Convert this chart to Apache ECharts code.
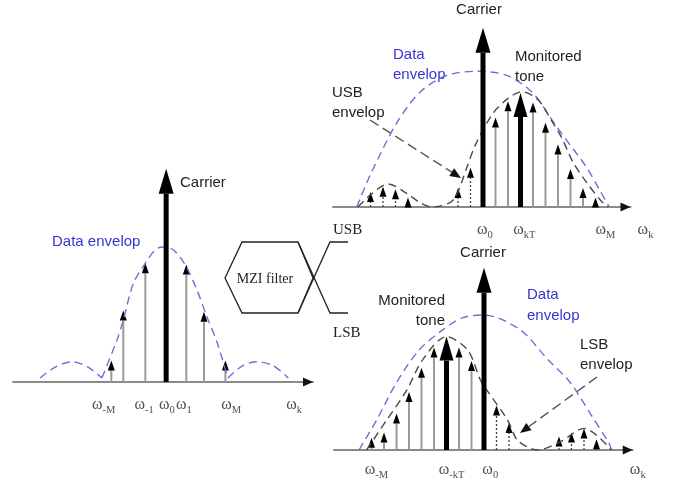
<!DOCTYPE html>
<html><head><meta charset="utf-8">
<script src="https://cdn.jsdelivr.net/npm/echarts@6/dist/echarts.min.js"></script>
<style>html,body{margin:0;padding:0;background:#fff}#c{width:676px;height:484px}</style>
</head><body><div id="c"></div>
<script>
// ---------- Panel 1 (input spectrum) ----------
const p1Carrier = [[0, 1.58]];
const p1Tones = [[-8.7,0.16],[-6.8,0.53],[-3.3,0.88],[3.2,0.87],[6.0,0.52],[9.4,0.16]];
const p1EnvLeft = [[-20,0.03],[-17.6,0.11],[-14.9,0.15],[-12.4,0.11],[-10.2,0.03]];
const p1EnvMain = [[-10.2,0.03],[-7.8,0.31],[-6.8,0.46],[-5.2,0.73],[-3.3,0.88],[-1.7,0.98],[-0.6,1.0],[1.1,0.98],[3.0,0.87],[4.9,0.68],[6.5,0.48],[8.1,0.29],[9.8,0.03]];
const p1EnvRight = [[9.8,0.03],[12.1,0.12],[14.4,0.15],[17,0.12],[19.4,0.03]];
const p1TickPos = [-9.9,-3.5,0.1,2.8,10.3,20.3];
const p1TickSub = ['-M','-1','0','1','M','k'];

// ---------- Panel 2 (USB) ----------
const p2Carrier = [[0, 1.32]];
const p2Monitored = [[3, 0.84]];
const p2Tones = [[1,0.66],[2,0.78],[4,0.77],[5,0.62],[6,0.46],[7,0.28],[8,0.14],[9,0.07]];
const p2Dotted = [[-9,0.11],[-8,0.15],[-7,0.13],[-6,0.07],[-2,0.14],[-1,0.29]];
const p2DataEnv = [[-10.1,0],[-9,0.24],[-6.9,0.62],[-5,0.85],[-2.9,0.97],[-0.5,1.0],[1.9,0.97],[4,0.84],[5.6,0.63],[6.3,0.54],[8.3,0.29],[9.3,0.13],[10.1,0]];
const p2UsbEnv = [[-10,0],[-9,0.09],[-7.6,0.17],[-6.1,0.1],[-5,0.03],[-4.1,0],[-2.4,0.05],[-1.3,0.29],[-0.6,0.46],[0.8,0.69],[2.0,0.8],[3.1,0.85],[4.4,0.79],[5.4,0.65],[6.3,0.51],[7.2,0.33],[8.3,0.18],[9.4,0.05],[10,0]];
const p2TickPos = [0.15,3.3,9.8,13.0];
const p2TickSub = ['0','kT','M','k'];

// ---------- Panel 3 (LSB) ----------
const p3Carrier = [[0, 1.35]];
const p3Monitored = [[-3, 0.84]];
const p3Tones = [[-9,0.09],[-8,0.13],[-7,0.27],[-6,0.43],[-5,0.61],[-4,0.76],[-2,0.76],[-1,0.66]];
const p3Dotted = [[1,0.33],[2,0.2],[6,0.1],[7,0.13],[8,0.16],[9,0.08]];
const p3DataEnv = [[-10,0],[-8.6,0.22],[-7,0.5],[-5.2,0.74],[-3.3,0.89],[-1.7,0.98],[0,1.0],[2.9,0.89],[5.1,0.67],[6.9,0.5],[8.5,0.27],[10,0.05],[10.2,0]];
const p3LsbEnv = [[-9.4,0],[-7.8,0.22],[-6.2,0.44],[-4.9,0.67],[-3,0.84],[-1.3,0.74],[-0.3,0.52],[0.1,0.46],[1.9,0.22],[2.7,0.07],[4.3,0],[6.1,0.06],[8,0.16],[10.2,0]];
const p3TickPos = [-8.6,-2.6,0.5,12.3];
const p3TickSub = ['-M','-kT','0','k'];

// ---------- layout ----------
const grids = [
  {left:13, top:166, width:300, height:216},
  {left:333, top:17, width:297.5, height:190},
  {left:334, top:261, width:298.75, height:189}
];
const xr = [[-24.3,23.3],[-12,11.8],[-12,11.9]];
const ymax = [1.6,1.4,1.4];
const labelOffset = [23,23,20];

const BLUE_LINE = '#6e6ed8', BLUE_TEXT = '#3535cf', ENV_BLACK = '#4a4a4a';
const SANS = '"Liberation Sans", Arial, sans-serif';
const SERIF = '"Liberation Serif", "Times New Roman", serif';

function spikes(g, data, st) {
  return {
    type:'custom', xAxisIndex:g, yAxisIndex:g, data, clip:false, silent:true, z: st.z || 3,
    renderItem(params, api) {
      const base = api.coord([api.value(0), 0]);
      const tip = api.coord([api.value(0), api.value(1)]);
      const x = base[0];
      const hb = tip[1] + st.headLen;
      return {type:'group', children:[
        {type:'line', shape:{x1:x, y1:base[1], x2:x, y2:hb},
         style:{stroke:st.stem, lineWidth:st.width, lineDash:st.dash || null}},
        {type:'polygon', shape:{points:[[x, tip[1]],[x-st.headW/2, hb],[x+st.headW/2, hb]]},
         style:{fill:'#000'}}
      ]};
    }
  };
}
function env(g, data, color) {
  return {type:'line', xAxisIndex:g, yAxisIndex:g, data, smooth:0.3, symbol:'none', silent:true, z:4,
    lineStyle:{color, width:1.4, type:[8,5]}};
}
function axisArrow(g) {
  return {type:'custom', xAxisIndex:g, yAxisIndex:g, data:[[xr[g][1],0]], clip:false, silent:true, z:5,
    renderItem(params, api) {
      const p = api.coord([api.value(0), api.value(1)]);
      return {type:'polygon', shape:{points:[[p[0], p[1]],[p[0]-10, p[1]-4.5],[p[0]-10, p[1]+4.5]]}, style:{fill:'#111'}};
    }};
}
function ticks(g, pos, subs) {
  return {type:'scatter', xAxisIndex:g, yAxisIndex:g, symbolSize:0, clip:false, silent:true,
    data: pos.map((p,i)=>({value:[p,0], label:{formatter:'{w|ω}{s|' + subs[i] + '}'}})),
    label:{show:true, position:'inside', offset:[0, labelOffset[g]],
      rich:{
        w:{fontFamily:SERIF, fontSize:16, color:'#222', verticalAlign:'middle'},
        s:{fontFamily:SERIF, fontSize:10.5, color:'#222', verticalAlign:'bottom', padding:[10,0,0,0]}
      }}};
}

const thin = {stem:'#9a9a9a', width:2, headW:7, headLen:10};
const dotted = {stem:'#444', width:1.3, dash:[2,2], headW:7, headLen:10};
const carrierSt = {stem:'#000', width:5, headW:15, headLen:25, z:5};
const monSt = {stem:'#000', width:5, headW:14, headLen:24, z:5};

const series = [
  env(0, p1EnvLeft, BLUE_LINE), env(0, p1EnvMain, BLUE_LINE), env(0, p1EnvRight, BLUE_LINE),
  spikes(0, p1Tones, thin), spikes(0, p1Carrier, carrierSt), axisArrow(0), ticks(0, p1TickPos, p1TickSub),

  env(1, p2DataEnv, BLUE_LINE), env(1, p2UsbEnv, ENV_BLACK),
  spikes(1, p2Tones, thin), spikes(1, p2Dotted, dotted), spikes(1, p2Monitored, monSt), spikes(1, p2Carrier, carrierSt),
  axisArrow(1), ticks(1, p2TickPos, p2TickSub),

  env(2, p3DataEnv, BLUE_LINE), env(2, p3LsbEnv, ENV_BLACK),
  spikes(2, p3Tones, thin), spikes(2, p3Dotted, dotted), spikes(2, p3Monitored, monSt), spikes(2, p3Carrier, carrierSt),
  axisArrow(2), ticks(2, p3TickPos, p3TickSub)
];

function txt(x, y, text, opt) {
  return {type:'text', x, y, silent:true, style:Object.assign({text, fill:'#222', font:'15px ' + SANS, align:'left', verticalAlign:'middle'}, opt || {})};
}
function leader(x1, y1, x2, y2) {
  const dx = x2-x1, dy = y2-y1, L = Math.hypot(dx, dy), ux = dx/L, uy = dy/L;
  const bx = x2 - ux*11, by = y2 - uy*11;
  return [
    {type:'line', silent:true, shape:{x1, y1, x2:bx, y2:by}, style:{stroke:'#555', lineWidth:1.4, lineDash:[10,5]}},
    {type:'polygon', silent:true, shape:{points:[[x2,y2],[bx - uy*4.5, by + ux*4.5],[bx + uy*4.5, by - ux*4.5]]}, style:{fill:'#111'}}
  ];
}

const graphic = [
  // panel 1
  txt(180, 183, 'Carrier'),
  txt(52, 242, 'Data envelop', {fill:BLUE_TEXT}),
  // panel 2
  txt(479, 10, 'Carrier', {align:'center'}),
  txt(393, 55, 'Data', {fill:BLUE_TEXT}), txt(393, 75, 'envelop', {fill:BLUE_TEXT}),
  txt(515, 57, 'Monitored'), txt(515, 77, 'tone'),
  txt(332, 93, 'USB'), txt(332, 113, 'envelop'),
  ...leader(370, 120, 461, 178),
  // panel 3
  txt(483, 253, 'Carrier', {align:'center'}),
  txt(445, 301, 'Monitored', {align:'right'}), txt(445, 321, 'tone', {align:'right'}),
  txt(527, 295, 'Data', {fill:BLUE_TEXT}), txt(527, 316, 'envelop', {fill:BLUE_TEXT}),
  txt(580, 345, 'LSB'), txt(580, 365, 'envelop'),
  ...leader(597, 377, 520, 433),
  // MZI filter
  {type:'polyline', silent:true, shape:{points:[[313,278],[298,242],[242,242],[225,278],[242,313],[298,313],[313,278]]}, style:{stroke:'#222', lineWidth:1.3, fill:null}},
  {type:'polyline', silent:true, shape:{points:[[298,313],[330,242],[348,242]]}, style:{stroke:'#222', lineWidth:1.3, fill:null}},
  {type:'polyline', silent:true, shape:{points:[[298,242],[330,313],[348,313]]}, style:{stroke:'#222', lineWidth:1.3, fill:null}},
  txt(265, 279, 'MZI filter', {align:'center', font:'14px ' + SERIF}),
  txt(333, 230, 'USB', {font:'15px ' + SERIF}),
  txt(333, 333, 'LSB', {font:'15px ' + SERIF})
];

const chart = echarts.init(document.getElementById('c'), null, {renderer:'canvas'});
chart.setOption({
  animation:false,
  backgroundColor:'#fff',
  grid: grids,
  xAxis: grids.map((g,i)=>({type:'value', gridIndex:i, min:xr[i][0], max:xr[i][1],
    axisLine:{show:true, lineStyle:{color:'#8a8a8a', width:2}}, axisTick:{show:false}, axisLabel:{show:false}, splitLine:{show:false}})),
  yAxis: grids.map((g,i)=>({type:'value', gridIndex:i, min:0, max:ymax[i], show:false, splitLine:{show:false}})),
  series,
  graphic
});
</script></body></html>
